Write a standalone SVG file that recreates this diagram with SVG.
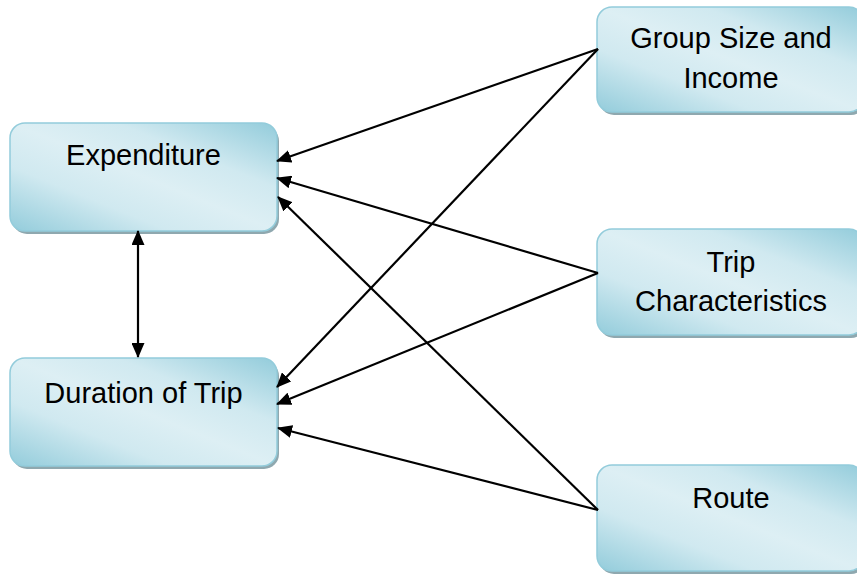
<svg xmlns="http://www.w3.org/2000/svg" width="857" height="576" viewBox="0 0 857 576">
  <defs>
    <linearGradient id="boxFill" x1="0" y1="1" x2="1" y2="0">
      <stop offset="0" stop-color="#93CCDB"/>
      <stop offset="0.3" stop-color="#D0E9F0"/>
      <stop offset="0.5" stop-color="#DDEFF4"/>
      <stop offset="0.7" stop-color="#D0E9F0"/>
      <stop offset="1" stop-color="#93CCDB"/>
    </linearGradient>
    <marker id="arrow" viewBox="0 0 15 13" refX="14" refY="6.5" markerWidth="15" markerHeight="13" markerUnits="userSpaceOnUse" orient="auto-start-reverse">
      <path d="M0,0 L15,6.5 L0,13 z" fill="#000"/>
    </marker>
  </defs>
  <style>
    .shadow { fill: #8FA8AF; }
    .box { fill: url(#boxFill); stroke: #93CCDB; stroke-width: 1.5; }
    .label { font-family: "Liberation Sans", Arial, sans-serif; font-size: 29px; fill: #000; text-anchor: middle; }
    .link { stroke: #000; stroke-width: 2.2; fill: none; marker-end: url(#arrow); }
    .both { marker-start: url(#arrow); }
  </style>

  <rect width="857" height="576" fill="#FFFFFF"/>

  <g id="expenditure">
    <rect class="shadow" x="12" y="126" width="267" height="108" rx="15"/>
    <rect class="box" x="10" y="123" width="267" height="108" rx="15"/>
    <text class="label" x="143.5" y="165">Expenditure</text>
  </g>

  <g id="duration">
    <rect class="shadow" x="12" y="361" width="267" height="108" rx="15"/>
    <rect class="box" x="10" y="358" width="267" height="108" rx="15"/>
    <text class="label" x="143.5" y="403">Duration of Trip</text>
  </g>

  <g id="group-size">
    <rect class="shadow" x="599" y="10" width="267" height="105" rx="15"/>
    <rect class="box" x="597" y="7" width="267" height="105" rx="15"/>
    <text class="label" x="731" y="48">Group Size and</text>
    <text class="label" x="731" y="88">Income</text>
  </g>

  <g id="trip-characteristics">
    <rect class="shadow" x="599" y="232" width="267" height="106" rx="15"/>
    <rect class="box" x="597" y="229" width="267" height="106" rx="15"/>
    <text class="label" x="731" y="272">Trip</text>
    <text class="label" x="731" y="311">Characteristics</text>
  </g>

  <g id="route">
    <rect class="shadow" x="599" y="468" width="267" height="106" rx="15"/>
    <rect class="box" x="597" y="465" width="267" height="106" rx="15"/>
    <text class="label" x="731" y="508">Route</text>
  </g>

  <g id="connectors">
    <line class="link" x1="598" y1="49" x2="277" y2="161"/>
    <line class="link" x1="598" y1="49" x2="277" y2="387"/>
    <line class="link" x1="598" y1="273" x2="277" y2="178"/>
    <line class="link" x1="598" y1="273" x2="277" y2="404"/>
    <line class="link" x1="598" y1="510" x2="278" y2="197"/>
    <line class="link" x1="598" y1="510" x2="278" y2="428"/>
    <line class="link both" x1="138" y1="231" x2="138" y2="357"/>
  </g>
</svg>
